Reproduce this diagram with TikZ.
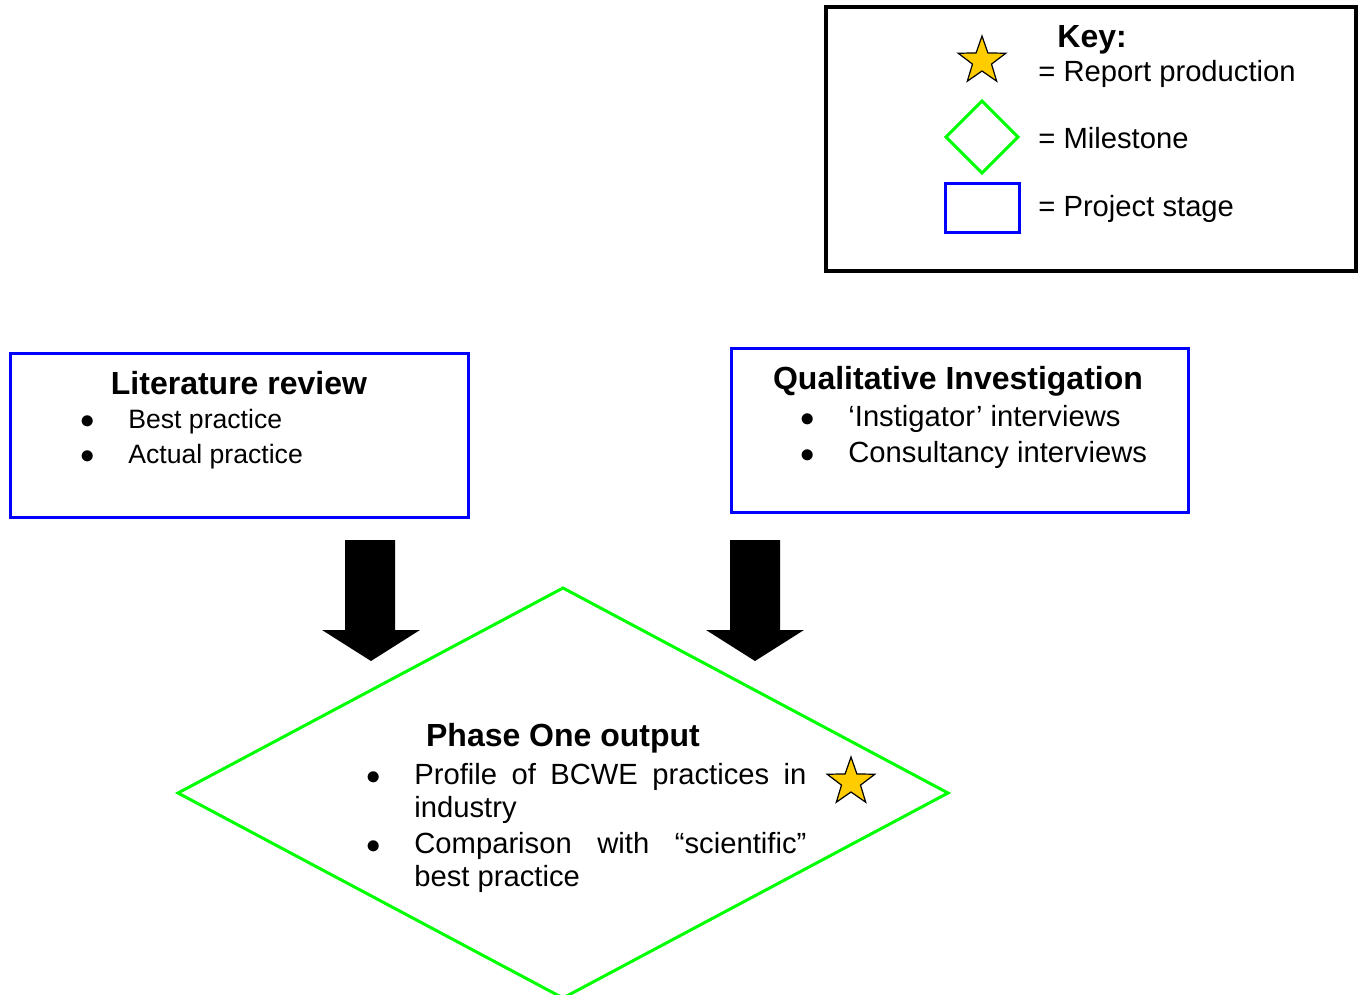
\documentclass[tikz,border=0pt]{standalone}
\usepackage{fontspec}
\setmainfont{Liberation Sans}
\usetikzlibrary{shapes.geometric}
\definecolor{stagecol}{RGB}{0,0,255}
\definecolor{milecol}{RGB}{0,255,0}
\definecolor{starcol}{RGB}{255,204,0}
\tikzset{
  txt/.style={anchor=base west, inner sep=0pt, font=\fontsize{14.6}{17.5}\selectfont},
  smalltxt/.style={anchor=base west, inner sep=0pt, font=\fontsize{13.3}{16}\selectfont},
  ttl/.style={anchor=base, inner sep=0pt, font=\fontsize{16}{19}\selectfont\bfseries},
  stagebox/.style={draw=stagecol, line width=1.5pt},
  milestone/.style={draw=milecol, line width=1.5pt},
  reportstar/.style={star, star points=5, star point ratio=2.5, draw=black, line width=0.6pt, fill=starcol, minimum size=25pt, inner sep=0pt},
  blockarrow/.style={fill=black, draw=none},
}
\begin{document}
\begin{tikzpicture}[x=0.5pt,y=-0.5pt]
\useasboundingbox (0,0) rectangle (1362,995);

% Key
\draw[line width=2pt] (826,7) rectangle (1356,271);
\node[reportstar] (keystar) at (982,61) {};
\draw[milestone] (982,101) -- (1018,137) -- (982,173) -- (946,137) -- cycle;
\draw[stagebox] (945,184) rectangle (1019,233);
\node[ttl, anchor=base west] (keytitle) at (1057,48) {Key:};
\node[txt] (keyreport) at (1038,82) {= Report production};
\node[txt] (keymile) at (1038,149) {= Milestone};
\node[txt] (keystage) at (1038,217) {= Project stage};

% Literature review
\draw[stagebox] (10,353) rectangle (468,517);
\node[ttl] (littitle) at (239,394) {Literature review};
\node[smalltxt] (litb1) at (80,428) {$\bullet$};
\node[smalltxt] (lit1) at (128,428) {Best practice};
\node[smalltxt] (litb2) at (80,463) {$\bullet$};
\node[smalltxt] (lit2) at (128,463) {Actual practice};

% Qualitative Investigation
\draw[stagebox] (731,348) rectangle (1188,512);
\node[ttl] (qualtitle) at (958,389) {Qualitative Investigation};
\node[txt] (qualb1) at (800,426) {$\bullet$};
\node[txt] (qual1) at (848,426) {‘Instigator’ interviews};
\node[txt] (qualb2) at (800,462) {$\bullet$};
\node[txt] (qual2) at (848,462) {Consultancy interviews};

% Block arrows
\fill[blockarrow] (345,540) -- (395,540) -- (395,630) -- (420,630) -- (371,661) -- (322,630) -- (345,630) -- cycle;
\fill[blockarrow] (730,540) -- (780,540) -- (780,630) -- (804,630) -- (755,661) -- (706,630) -- (730,630) -- cycle;

% Phase One diamond
\coordinate (dtop) at (563,588);
\coordinate (dright) at (948,793);
\coordinate (dbottom) at (563,998);
\coordinate (dleft) at (178,793);
\draw[milestone] (dtop) -- (dright) -- (dbottom) -- (dleft) -- cycle;
\node[ttl] (phasetitle) at (563,746) {Phase One output};
\node[txt] (pb1) at (366,784) {$\bullet$};
\node[txt] (p1a) at (414,784) {\makebox[196pt][s]{Profile of BCWE practices in}};
\node[txt] (p1b) at (414,817) {industry};
\node[txt] (pb2) at (366,853) {$\bullet$};
\node[txt] (p2a) at (414,853) {\makebox[196pt][s]{Comparison with “scientific”}};
\node[txt] (p2b) at (414,886) {best practice};
\node[reportstar] (phasestar) at (851,782) {};
\end{tikzpicture}
\end{document}
